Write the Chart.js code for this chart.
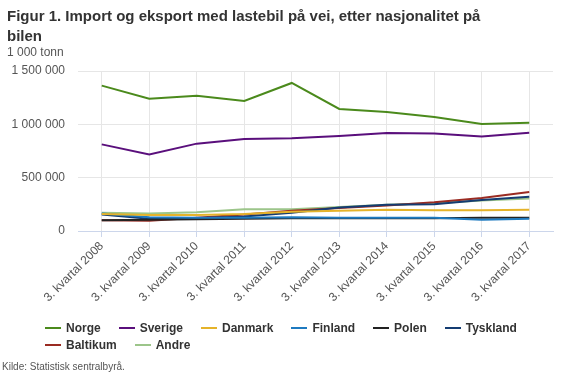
<!DOCTYPE html>
<html>
<head>
<meta charset="utf-8">
<script src="https://cdn.jsdelivr.net/npm/chart.js@4/dist/chart.umd.min.js"></script>
<style>
  html, body { margin: 0; padding: 0; background: #fff; }
  body { width: 563px; height: 375px; position: relative; overflow: hidden; font-family: "Liberation Sans", Arial, sans-serif; }
  #title { position: absolute; left: 7px; top: 6px; width: 500px; font-size: 15px; font-weight: bold; color: #333; line-height: 20px; }
  #unit { position: absolute; left: 7px; top: 45px; font-size: 12px; color: #555; }
  #source { position: absolute; left: 2px; top: 361px; font-size: 10px; color: #555; }
  #wrap { position: absolute; left: 0; top: 0; width: 563px; height: 375px; }
  #legend { position: absolute; left: 45px; top: 319px; width: 500px; font-size: 12px; font-weight: bold; color: #333; }
  .row { display: flex; height: 17px; align-items: center; }
  .item { display: flex; align-items: center; margin-right: 18px; white-space: nowrap; }
  .sw { width: 16px; height: 2px; margin-right: 5px; }
</style>
</head>
<body>
<div id="wrap"><canvas id="c" width="563" height="375"></canvas></div>
<div id="title">Figur 1. Import og eksport med lastebil på vei, etter nasjonalitet på bilen</div>
<div id="unit">1 000 tonn</div>
<div id="legend"></div>
<div id="source">Kilde: Statistisk sentralbyrå.</div>
<script>
const categories = ["3. kvartal 2008","3. kvartal 2009","3. kvartal 2010","3. kvartal 2011","3. kvartal 2012","3. kvartal 2013","3. kvartal 2014","3. kvartal 2015","3. kvartal 2016","3. kvartal 2017"];
const norge    = [1363000,1241000,1269000,1219000,1388000,1144000,1116000,1069000,1003000,1016000];
const sverige  = [812000,718000,819000,862000,869000,890000,918000,915000,887000,922000];
const danmark  = [160000,150000,150000,160000,180000,190000,200000,195000,195000,200000];
const finland  = [165000,130000,125000,125000,130000,125000,125000,125000,105000,115000];
const polen    = [100000,105000,110000,115000,120000,120000,120000,120000,125000,125000];
const tyskland = [155000,115000,120000,135000,170000,220000,245000,250000,290000,320000];
const baltikum = [100000,95000,125000,155000,190000,215000,240000,270000,310000,365000];
const andre    = [170000,165000,175000,205000,205000,225000,245000,260000,285000,305000];
const yTicks   = [0,500000,1000000,1500000];

const series = [
  {label:"Norge", data:norge, color:"#4b8a1c"},
  {label:"Sverige", data:sverige, color:"#5a0f7c"},
  {label:"Danmark", data:danmark, color:"#e5b32a"},
  {label:"Finland", data:finland, color:"#1e7ac0"},
  {label:"Polen", data:polen, color:"#222222"},
  {label:"Tyskland", data:tyskland, color:"#143c72"},
  {label:"Baltikum", data:baltikum, color:"#9a2b22"},
  {label:"Andre", data:andre, color:"#9cc58a"}
];

const legend = document.getElementById('legend');
const rows = [series.slice(0,6), series.slice(6)];
rows.forEach(r => {
  const row = document.createElement('div'); row.className = 'row';
  r.forEach(s => {
    const it = document.createElement('div'); it.className = 'item';
    const sw = document.createElement('span'); sw.className = 'sw'; sw.style.background = s.color;
    const tx = document.createElement('span'); tx.textContent = s.label;
    it.appendChild(sw); it.appendChild(tx); row.appendChild(it);
  });
  legend.appendChild(row);
});

function fmt(v){ return String(v).replace(/\B(?=(\d{3})+(?!\d))/g, ' '); }

new Chart(document.getElementById('c'), {
  type: 'line',
  data: {
    labels: categories,
    datasets: series.map(s => ({
      label: s.label, data: s.data, borderColor: s.color, backgroundColor: s.color,
      borderWidth: 2, pointRadius: 0, tension: 0, fill: false
    }))
  },
  options: {
    responsive: false, animation: false,
    layout: { padding: { top: 71, right: 10, bottom: 59, left: 0 } },
    plugins: { legend: { display: false }, tooltip: { enabled: false }, title: { display: false } },
    scales: {
      x: {
        offset: true,
        grid: { offset: false, color: '#e6e6e6', tickColor: '#ccd6eb', tickLength: 6, drawTicks: true },
        border: { color: '#ccd6eb' },
        ticks: { maxRotation: 45, minRotation: 45, autoSkip: false, color: '#555', font: { family: 'Liberation Sans', size: 12 }, padding: 2 },
        afterFit: s => { s.height = 85; }
      },
      y: {
        min: 0, max: 1500000,
        afterBuildTicks: s => { s.ticks = yTicks.map(v => ({ value: v })); },
        grid: { color: '#e6e6e6', drawTicks: false },
        border: { display: false },
        ticks: { color: '#555', font: { family: 'Liberation Sans', size: 12 }, padding: 13, callback: v => fmt(v) },
        afterFit: s => { s.width = 78; }
      }
    }
  }
});
</script>
</body>
</html>
